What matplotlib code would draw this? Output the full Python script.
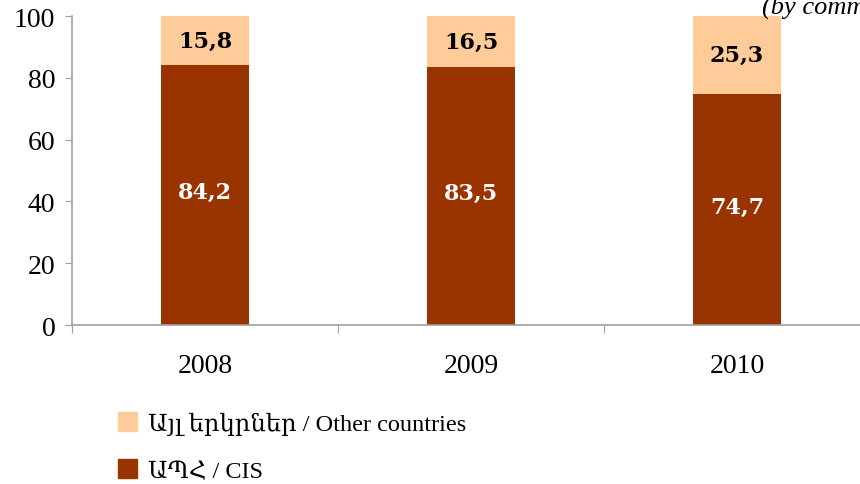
import matplotlib.pyplot as plt
from matplotlib.patches import Patch

years = ["2008", "2009", "2010"]
cis = [84.2, 83.5, 74.7]
other = [15.8, 16.5, 25.3]
cis_labels = ["84,2", "83,5", "74,7"]
other_labels = ["15,8", "16,5", "25,3"]

dark = "#993300"
light = "#FFCC99"
grey = "#a0a0a0"
serif = ["Liberation Serif", "DejaVu Serif"]

plt.rcParams['font.family'] = serif

fig = plt.figure(figsize=(8.6, 4.85), dpi=100)
ax = fig.add_axes([72 / 860, 159 / 485, 798 / 860, 309 / 485])

x = range(len(years))
ax.bar(x, cis, 0.33, color=dark)
ax.bar(x, other, 0.33, bottom=cis, color=light)

# bar labels, wider bold serif like the original
for i in x:
    ax.text(i, cis[i] / 2 + 1, cis_labels[i], ha='center', va='center',
            color='white', fontsize=16, fontweight='bold', family='DejaVu Serif')
    ax.text(i, cis[i] + other[i] / 2, other_labels[i], ha='center', va='center',
            color='black', fontsize=16, fontweight='bold', family='DejaVu Serif')

ax.set_xlim(-0.5, 2.5)
ax.set_ylim(0, 100)
ax.set_yticks([0, 20, 40, 60, 80, 100])
ax.tick_params(axis='y', labelsize=20, length=5, color=grey, pad=7)
ax.set_xticks([-0.5, 0.5, 1.5])
ax.set_xticklabels([])
ax.set_xticks(list(x), minor=True)
ax.set_xticklabels(years, minor=True)
ax.tick_params(axis='x', which='major', length=6, color=grey)
ax.tick_params(axis='x', which='minor', length=0, labelsize=20, pad=20)

for s in ['top', 'right']:
    ax.spines[s].set_visible(False)
for s in ['left', 'bottom']:
    ax.spines[s].set_color(grey)
    ax.spines[s].set_linewidth(1.2)

fig.text(762 / 860, 1 - 8 / 485, "(by commodity groups)", ha='left', va='center',
         fontsize=19, style='italic')

handles = [Patch(color=light), Patch(color=dark)]
labels = ["Այլ երկրներ / Other countries", "ԱՊՀ / CIS"]
fig.legend(handles, labels, loc='upper left', bbox_to_anchor=(118 / 860, 1 - 413 / 485),
           frameon=False, fontsize=17.5, handlelength=0.8, handleheight=0.8,
           handletextpad=0.45, labelspacing=1.0, borderpad=0, borderaxespad=0)

fig.savefig("out.png", dpi=100)
